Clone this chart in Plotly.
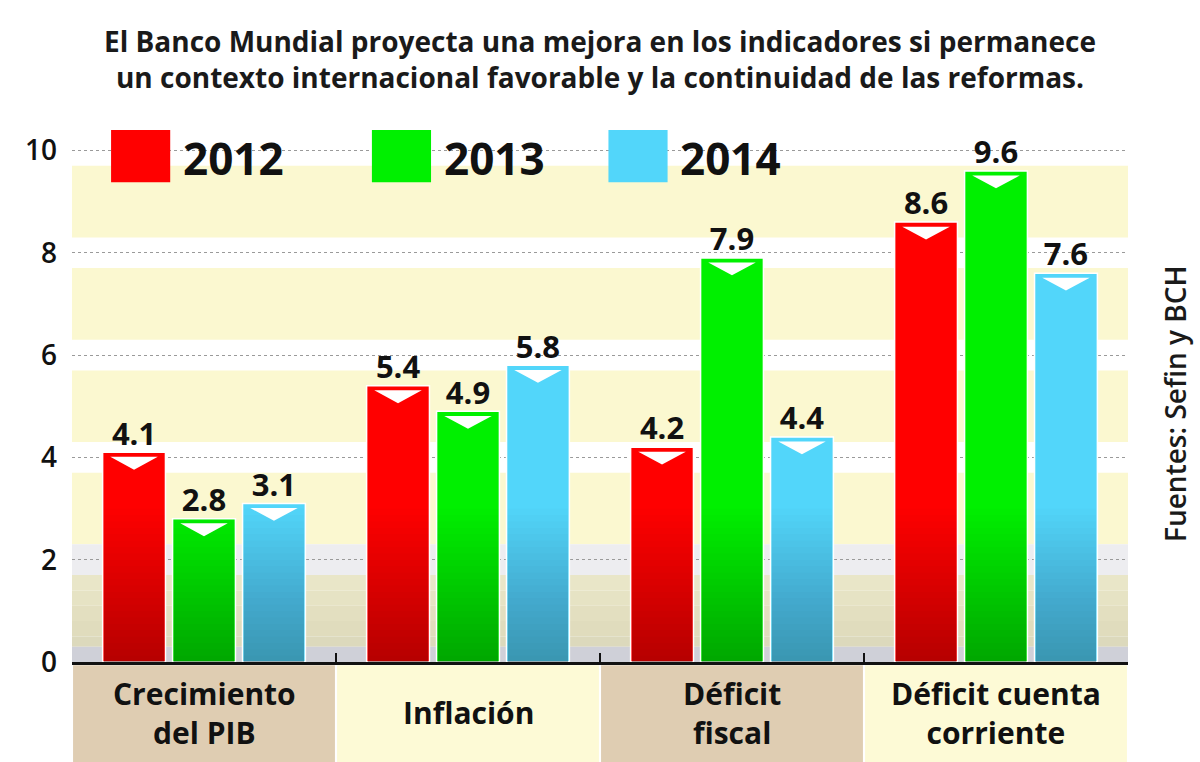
import plotly.graph_objects as go

# ---- data ----
categories = ["Crecimiento<br>del PIB", "Inflación", "Déficit<br>fiscal", "Déficit cuenta<br>corriente"]
series_names = ["2012", "2013", "2014"]
values_2012 = [4.1, 5.4, 4.2, 8.6]
values_2013 = [2.8, 4.9, 7.9, 9.6]
values_2014 = [3.1, 5.8, 4.4, 7.6]
y_ticks = [0, 2, 4, 6, 8, 10]

title_lines = ["El Banco Mundial proyecta una mejora en los indicadores si permanece",
               "un contexto internacional favorable y la continuidad de las reformas."]
source_text = "Fuentes: Sefin y BCH"

# ---- styling ----
colors = ["#ff0000", "#00f000", "#52d6fa"]
box_colors = ["#dfcdb2", "#fdfad6"]
band_color = "#fbf8d0"
FONT = "Open Sans"
slot = 0.265
bw = 0.238

series = [values_2012, values_2013, values_2014]
n = len(categories)
xc = list(range(n))

fig = go.Figure()

for j, (name, vals, col) in enumerate(zip(series_names, series, colors)):
    xs = [i + (j - 1) * slot for i in xc]
    fig.add_trace(go.Bar(x=xs, y=vals, width=bw, marker=dict(color=col, line=dict(color="white", width=1.5)),
                         name=name, showlegend=False, hoverinfo="y"))
    # darkening gradient near the bottom
    levels = [0.125 * k for k in range(1, 25)]
    for lv in levels:
        fig.add_trace(go.Bar(x=xs, y=[min(v, lv) for v in vals], width=bw - 0.008,
                             marker=dict(color="rgba(0,0,0,0.012)", line=dict(width=0)),
                             showlegend=False, hoverinfo="skip"))
    # white triangles near top
    tx, ty = [], []
    for x, v in zip(xs, vals):
        top = v - 0.09
        tx += [x - 0.09, x + 0.09, x, x - 0.09, None]
        ty += [top, top, top - 0.25, top, None]
    fig.add_trace(go.Scatter(x=tx, y=ty, mode="lines", fill="toself", fillcolor="white",
                             line=dict(width=0, color="white"), showlegend=False, hoverinfo="skip"))
    # value labels
    fig.add_trace(go.Scatter(x=xs, y=vals, mode="text", text=[f"{v:.1f}" for v in vals],
                             textposition="top center",
                             textfont=dict(family=FONT, size=31, color="#111", weight="bold"),
                             showlegend=False, hoverinfo="skip", cliponaxis=False))

shapes = []
# background bands
for lo in [2, 4, 6, 8]:
    shapes.append(dict(type="rect", xref="x", yref="y", x0=-0.5, x1=3.5, y0=lo + 0.3, y1=lo + 1.7,
                       fillcolor=band_color, line=dict(width=0), layer="below"))
shapes.append(dict(type="rect", xref="x", yref="y", x0=-0.5, x1=3.5, y0=1.7, y1=2.3,
                   fillcolor="#ededf0", line=dict(width=0), layer="below"))
bottom_steps = [(1.7, 1.4, "#e9e6c8"), (1.4, 1.1, "#e6e3c4"), (1.1, 0.8, "#e3dfc0"),
                (0.8, 0.5, "#e0dcbd"), (0.5, 0.3, "#dcd9bc"), (0.3, 0.0, "#cfd0d8")]
for y1, y0, c in bottom_steps:
    shapes.append(dict(type="rect", xref="x", yref="y", x0=-0.5, x1=3.5, y0=y0, y1=y1,
                       fillcolor=c, line=dict(width=0), layer="below"))

# category boxes
for i in xc:
    shapes.append(dict(type="rect", xref="x", yref="paper", x0=i - 0.5 + 0.004, x1=i + 0.5 - 0.004,
                       y0=-0.19, y1=-0.006, fillcolor=box_colors[i % 2], line=dict(width=0)))

annotations = []
for i, c in enumerate(categories):
    annotations.append(dict(x=i, y=-0.095, xref="x", yref="paper", text=c, showarrow=False,
                            font=dict(family=FONT, size=30, color="#111", weight="bold"),
                            yanchor="middle", align="center"))

# legend
leg_x = [0.037, 0.284, 0.508]
for name, col, lx in zip(series_names, colors, leg_x):
    shapes.append(dict(type="rect", xref="paper", yref="paper", x0=lx, x1=lx + 0.056,
                       y0=0.902, y1=1.0, fillcolor=col, line=dict(width=0)))
    annotations.append(dict(x=lx + 0.066, y=0.948, xref="paper", yref="paper", text=name,
                            showarrow=False, xanchor="left", yanchor="middle",
                            font=dict(family=FONT, size=44, color="#111", weight="bold")))

# title
annotations.append(dict(x=0.5, y=1.134, xref="paper", yref="paper", text="<br>".join(title_lines),
                        showarrow=False, align="center",
                        font=dict(family=FONT, size=28, color="#1a1a1a", weight="bold"), yanchor="middle"))
# source
annotations.append(dict(x=1.0445, y=0.485, xref="paper", yref="paper", text=source_text, showarrow=False,
                        textangle=-90, font=dict(family=FONT, size=28, color="#1a1a1a", weight=600),
                        xanchor="center", yanchor="middle"))

fig.update_layout(
    width=1200, height=762,
    margin=dict(l=72, r=72, t=130, b=100),
    paper_bgcolor="white", plot_bgcolor="white",
    barmode="overlay",
    showlegend=False,
    shapes=shapes, annotations=annotations,
    xaxis=dict(range=[-0.5, 3.5], tickvals=[-0.5, 0.5, 1.5, 2.5, 3.5], showticklabels=False,
               ticks="inside", ticklen=9, tickwidth=2, tickcolor="#111",
               showline=True, linecolor="#111", linewidth=2.5, showgrid=False, zeroline=False,
               fixedrange=True),
    yaxis=dict(range=[0, 10.4], tickvals=y_ticks, ticktext=[str(t) for t in y_ticks],
               showgrid=True, gridcolor="#9a9a9a", griddash="dot", gridwidth=1.2,
               zeroline=False, showline=False, ticks="", ticklabelstandoff=14,
               tickfont=dict(family=FONT, size=28, color="#111", weight=600), fixedrange=True),
)

fig.write_html("out.html")
